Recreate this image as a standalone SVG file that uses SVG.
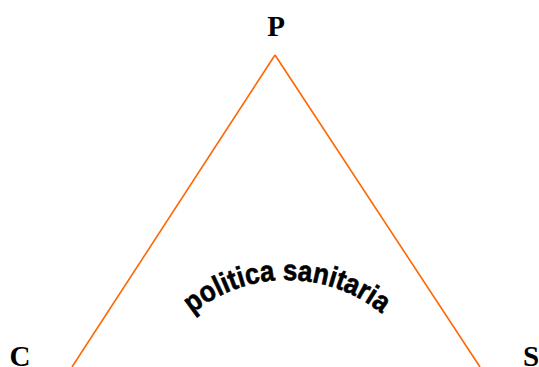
<svg xmlns="http://www.w3.org/2000/svg" width="539" height="367" viewBox="0 0 539 367">
<style>
.lbl{font-family:"Liberation Serif","Times New Roman",serif;font-weight:bold;font-size:29px;fill:#000;text-anchor:middle}
.edge{stroke:#ff6600;stroke-width:1.6;fill:none}
.arc{font-family:"Liberation Sans",Arial,sans-serif;font-weight:bold;font-size:29px;fill:#000;stroke:#000;stroke-width:0.6}
</style>
<defs>
<path id="arcPath" d="M157.1,355 A150,150 0 0 1 416.9,355"/>
</defs>
<rect width="539" height="367" fill="#fff"/>
<g id="connectors">
<path class="edge" d="M275,55 L72,367"/>
<path class="edge" d="M275,55 L480,367"/>
</g>
<g id="node-P"><text class="lbl" x="276" y="36">P</text></g>
<g id="node-C"><text class="lbl" x="20" y="366">C</text></g>
<g id="node-S"><text class="lbl" x="531" y="366">S</text></g>
<g id="label-politica"><text class="arc"><textPath href="#arcPath" startOffset="50%" text-anchor="middle" textLength="205" lengthAdjust="spacingAndGlyphs">politica sanitaria</textPath></text></g>
</svg>
